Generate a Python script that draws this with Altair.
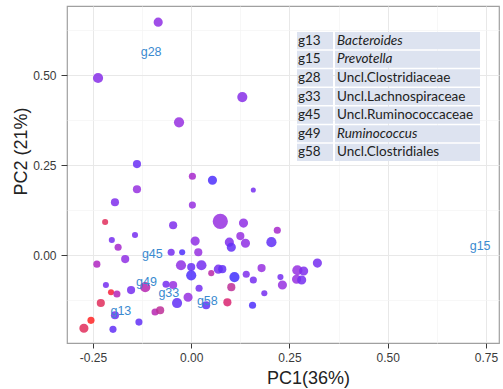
import altair as alt
import pandas as pd

# ---- sample scores ----
pc1 = [-0.084, -0.237, 0.130, -0.031, -0.138, 0.003, 0.054, -0.138, -0.194, 0.158,
       0.003, -0.219, 0.074, 0.133, -0.046, -0.143, -0.202, -0.186, 0.010, 0.097,
       0.102, 0.125, 0.138, 0.219, 0.204, -0.051, -0.023, 0.018, -0.168, -0.240,
       -0.026, 0.000, 0.026, 0.000, 0.051, 0.069, 0.079, 0.110, 0.140, 0.179,
       0.158, 0.227, 0.232, 0.270, 0.286, 0.268, 0.281, 0.321, 0.186, 0.156,
       -0.217, -0.204, -0.189, -0.153, -0.117, -0.064, -0.046, 0.020, 0.102, -0.230,
       -0.036, -0.008, 0.038, 0.092, -0.255, -0.194, -0.133, -0.092, -0.079, -0.273,
       -0.199]
pc2 = [0.647, 0.492, 0.439, 0.369, 0.253, 0.219, 0.208, 0.183, 0.147, 0.181,
       0.139, 0.092, 0.094, 0.089, 0.083, 0.056, 0.042, 0.022, 0.039, 0.036,
       0.022, 0.053, 0.033, 0.069, 0.036, 0.008, 0.008, 0.008, -0.011, -0.025,
       -0.028, -0.033, -0.028, -0.056, -0.050, -0.039, -0.039, -0.061, -0.053, -0.036,
       -0.069, -0.061, -0.083, -0.042, -0.044, -0.067, -0.069, -0.022, -0.106, -0.139,
       -0.083, -0.103, -0.108, -0.097, -0.089, -0.081, -0.083, -0.092, -0.089, -0.133,
       -0.133, -0.117, -0.139, -0.131, -0.181, -0.167, -0.186, -0.158, -0.153, -0.203,
       -0.206]
abundance = [4.5, 5, 5, 5, 4, 3.5, 4.5, 4, 4, 2.5,
             3.5, 3, 7.5, 4.5, 4, 3, 3, 3.5, 4.5, 4.5,
             4.5, 4, 4.5, 3.5, 5, 3.5, 3, 4, 4, 3.5,
             5, 4, 5, 5, 3, 4.5, 4, 5, 3.5, 4,
             3.5, 3, 4.5, 5, 4.5, 4.5, 4.5, 4.5, 3, 3.5,
             3, 3, 3.5, 4, 5, 3.5, 4, 3.5, 4, 4,
             5, 4.5, 4, 4, 3.5, 4, 3.5, 3.5, 4, 4.5,
             3.5]
ratio = [0.55, 0.6, 0.6, 0.5, 0.75, 0.45, 0.9, 0.5, 0.65, 0.7,
         0.5, 0.15, 0.5, 0.55, 0.65, 0.7, 0.7, 0.45, 0.55, 0.65,
         0.8, 0.5, 0.55, 0.45, 0.8, 0.7, 0.9, 0.5, 0.55, 0.42,
         0.55, 0.75, 0.7, 0.9, 0.35, 0.7, 0.8, 0.95, 0.65, 0.5,
         0.7, 0.7, 0.5, 0.5, 0.65, 0.5, 0.7, 0.7, 0.7, 0.9,
         0.7, 0.05, 0.4, 0.7, 0.38, 0.7, 0.5, 0.7, 0.3, 0.15,
         0.8, 0.5, 0.8, 0.2, 0.0, 0.7, 0.8, 0.38, 0.3, 0.15,
         0.8]

# ---- genus loadings labels ----
genus_id = ["g13", "g15", "g28", "g33", "g45", "g49", "g58"]
genus_name = ["Bacteroides", "Prevotella", "Uncl.Clostridiaceae", "Uncl.Lachnospiraceae",
              "Uncl.Ruminococcaceae", "Ruminococcus", "Uncl.Clostridiales"]
genus_italic = [True, True, False, False, False, True, False]
label_pc1 = [-0.179, 0.735, -0.102, -0.057, -0.099, -0.114, 0.041]
label_pc2 = [-0.156, 0.025, 0.564, -0.106, 0.004, -0.075, -0.128]

pts = pd.DataFrame({"PC1": pc1, "PC2": pc2, "abundance": abundance, "ratio": ratio})
labs = pd.DataFrame({"gid": genus_id, "PC1": label_pc1, "PC2": label_pc2})
tab = pd.DataFrame({"gid": genus_id, "name": genus_name, "italic": genus_italic})

MAJ = "abs(datum.value*4 - round(datum.value*4)) < 0.01"
LAB = ("(" + MAJ + ") ? (datum.value < -0.001 ? '-' + format(-datum.value, '.2f') "
       ": format(abs(datum.value), '.2f')) : ''")

common_axis = dict(
    labelExpr=LAB, labelFont="Liberation Sans", labelFontSize=12, labelColor="#3a3a3a",
    labelOverlap=False, labelFlush=False, domain=False,
    tickColor="#3a3a3a",
    tickOpacity={"condition": {"test": MAJ, "value": 1}, "value": 0},
    gridColor={"condition": {"test": MAJ, "value": "#e8e8e8"}, "value": "#f3f3f3"},
    gridWidth={"condition": {"test": MAJ, "value": 1}, "value": 0.7},
    titleFont="Liberation Sans", titleFontSize=18, titleFontWeight="normal",
    titleColor="#222222", titleBaseline="alphabetic", titleAlign="center",
)

xax = alt.Axis(values=[-0.25, -0.125, 0, 0.125, 0.25, 0.375, 0.5, 0.625, 0.75],
               title="PC1(36%)", tickSize=5, labelPadding=4, titleX=241, titleY=40,
               **common_axis)
yax = alt.Axis(values=[-0.125, 0, 0.125, 0.25, 0.375, 0.5, 0.625],
               title="PC2 (21%)", tickSize=6, labelPadding=5, titleX=-41, titleY=145,
               titleAngle=270, **common_axis)

xs = alt.Scale(domain=[-0.316, 0.783], nice=False, zero=False)
ys = alt.Scale(domain=[-0.244, 0.692], nice=False, zero=False)

points = alt.Chart(pts).mark_circle(opacity=0.85, strokeWidth=0).encode(
    x=alt.X("PC1:Q", scale=xs, axis=xax),
    y=alt.Y("PC2:Q", scale=ys, axis=yax),
    size=alt.Size("abundance:Q", scale=alt.Scale(type="pow", exponent=2, domain=[0, 8], range=[0, 265]), legend=None),
    color=alt.Color("ratio:Q", scale=alt.Scale(
        domain=[0, 0.15, 0.3, 0.5, 0.75, 1],
        range=["#ff2424", "#e02e5c", "#bd2f98", "#9630e0", "#6a2ff4", "#3030ff"]), legend=None),
)

labels = alt.Chart(labs).mark_text(font="Liberation Sans", fontSize=12.5, color="#3a8ad0").encode(
    x=alt.X("PC1:Q", scale=xs),
    y=alt.Y("PC2:Q", scale=ys),
    text="gid:N",
)

plot = alt.layer(points, labels)

ty = alt.Y("gid:N", sort=genus_id, axis=None,
           scale=alt.Scale(range=[26, 155], paddingInner=0.08, paddingOuter=0))
cell_col = "#dde3f0"
cell1 = alt.Chart(tab).mark_rect(color=cell_col).encode(x=alt.value(230), x2=alt.value(266), y=ty)
cell2 = alt.Chart(tab).mark_rect(color=cell_col).encode(x=alt.value(268), x2=alt.value(413), y=ty)
tfont = dict(font="Lato", fontSize=13.5, color="#222222", align="left", baseline="middle")
t_id = alt.Chart(tab).mark_text(**tfont).encode(x=alt.value(231), y=ty, text="gid:N")
t_name = alt.Chart(tab).mark_text(**tfont).encode(x=alt.value(270), y=ty, text="name:N").transform_filter("!datum.italic")
t_name_i = alt.Chart(tab).mark_text(fontStyle="italic", **tfont).encode(x=alt.value(270), y=ty, text="name:N").transform_filter("datum.italic")

table = alt.layer(cell1, cell2, t_id, t_name, t_name_i)

chart = alt.layer(plot, table).resolve_scale(y="independent").properties(
    width=432, height=337,
    autosize=alt.AutoSizeParams(type="none"),
    padding={"left": 67, "top": 6, "right": 4, "bottom": 46},
    background="white",
).configure_view(stroke="#a0a0a0", strokeWidth=1.2)

chart.save("out.html", embed_options={"renderer": "svg", "actions": False})
